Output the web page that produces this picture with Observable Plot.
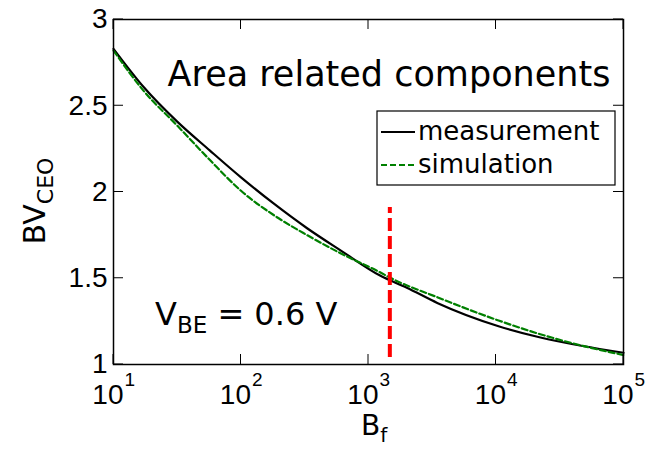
<!DOCTYPE html>
<html><head><meta charset="utf-8">
<script src="https://cdn.jsdelivr.net/npm/d3@7"></script>
<script src="https://cdn.jsdelivr.net/npm/@observablehq/plot@0.6"></script>
<style>body{margin:0;background:#fff} svg{font-family:"Liberation Sans"}</style>
</head><body><div id="chart"></div>
<script>
// Data
const bfMeas = [10, 17.3, 31.6, 57.1, 100, 179, 330, 603, 1242, 2000, 3460, 10470, 21900, 47900, 100000];
const measurement = [2.83, 2.607, 2.408, 2.24, 2.085, 1.935, 1.79, 1.662, 1.514, 1.445, 1.357, 1.222, 1.158, 1.107, 1.068];
const bfSim = [10, 17.3, 31.6, 57.1, 100, 179, 330, 603, 1242, 1479, 3460, 10470, 21900, 47900, 100000];
const simulation = [2.82, 2.585, 2.385, 2.185, 2.007, 1.868, 1.75, 1.645, 1.533, 1.503, 1.39, 1.255, 1.177, 1.108, 1.055];
const xTicks = [10, 100, 1000, 10000, 100000];
const xExp = ["1", "2", "3", "4", "5"];
const yTicks = [1, 1.5, 2, 2.5, 3];
const markerBf = [1470];
const markerY = [1.04, 1.91];
const seriesNames = ["measurement", "simulation"];

const measData = bfMeas.map((x, i) => ({x, y: measurement[i]}));
const simData = bfSim.map((x, i) => ({x, y: simulation[i]}));
const xLab = xTicks.map((x, i) => ({x, e: xExp[i]}));

const W = 648, H = 450, ML = 113, MR = 25, MT = 19, MB = 86;
const SANS = "Liberation Sans", WIDE = "DejaVu Sans";

const plot = Plot.plot({
  width: W, height: H,
  marginLeft: ML, marginRight: MR, marginTop: MT, marginBottom: MB,
  style: {fontFamily: SANS, fontSize: "28px", background: "#fff", color: "#000", overflow: "visible"},
  x: {type: "log", domain: [10, 1e5], axis: null},
  y: {domain: [1, 3], axis: null},
  marks: [
    Plot.line(measData, {x: "x", y: "y", stroke: "#000", strokeWidth: 2.2, curve: "monotone-x"}),
    Plot.line(simData, {x: "x", y: "y", stroke: "#008000", strokeWidth: 2.2, strokeDasharray: "6,3", curve: "monotone-x"}),
    Plot.ruleX(markerBf, {x: d => d, y1: markerY[0], y2: markerY[1], stroke: "#ff0000", strokeWidth: 4, strokeDasharray: "13,5"}),
    Plot.frame({stroke: "#000", strokeWidth: 1.5}),
    // y tick labels
    Plot.text(yTicks, {x: 10, y: d => d, text: d => String(d), textAnchor: "end", dx: -6, fontSize: 28}),
    // x tick labels: 10 with superscript exponent
    Plot.text(xLab, {x: "x", y: 1, text: () => "10", textAnchor: "end", lineAnchor: "bottom", dx: 10, dy: 39, fontSize: 28}),
    Plot.text(xLab, {x: "x", y: 1, text: "e", textAnchor: "start", lineAnchor: "bottom", dx: 11, dy: 21, fontSize: 19})
  ]
});
document.getElementById("chart").appendChild(plot);

const svg = d3.select(plot);
const sx = plot.scale("x"), sy = plot.scale("y");
const [x0, x1] = [sx.apply(10), sx.apply(1e5)];
const [yb, yt] = [sy.apply(1), sy.apply(3)];
const TL = 10;

// inward ticks, MATLAB style, on all four sides
const tg = svg.append("g").attr("stroke", "#000").attr("stroke-width", 1);
yTicks.forEach(v => {
  const y = sy.apply(v);
  tg.append("line").attr("x1", x0).attr("x2", x0 + TL).attr("y1", y).attr("y2", y);
  tg.append("line").attr("x1", x1).attr("x2", x1 - TL).attr("y1", y).attr("y2", y);
});
xTicks.forEach(v => {
  const x = sx.apply(v);
  tg.append("line").attr("x1", x).attr("x2", x).attr("y1", yb).attr("y2", yb - TL);
  tg.append("line").attr("x1", x).attr("x2", x).attr("y1", yt).attr("y2", yt + TL);
});

function richText(opts, parts) {
  const t = svg.append("text")
    .attr("font-family", opts.family).attr("font-size", opts.size).attr("fill", "#000")
    .attr("text-anchor", opts.anchor || "start");
  if (opts.rotate) t.attr("transform", `translate(${opts.x},${opts.y}) rotate(-90)`);
  else t.attr("x", opts.x).attr("y", opts.y);
  let shift = 0;
  parts.forEach(p => {
    const ts = t.append("tspan").text(p.text);
    if (p.size) ts.attr("font-size", p.size);
    const want = p.dy || 0;
    if (want !== shift) { ts.attr("dy", want - shift); shift = want; }
  });
  return t;
}

// axis labels
richText({x: 361, y: 435, family: WIDE, size: 28}, [{text: "B"}, {text: "f", size: 20, dy: 7}]);
richText({x: 45, y: 201, family: WIDE, size: 30, anchor: "middle", rotate: true},
  [{text: "BV"}, {text: "CEO", size: 22, dy: 8}]);

// annotations
svg.append("text").attr("x", 389).attr("y", 86).attr("text-anchor", "middle")
  .attr("font-family", WIDE).attr("font-size", 35).attr("fill", "#000").text("Area related components");
richText({x: 155, y: 325, family: WIDE, size: 32},
  [{text: "V"}, {text: "BE", size: 23, dy: 8}, {text: " = 0.6 V", dy: 0}]);

// legend
const lg = svg.append("g");
lg.append("rect").attr("x", 377).attr("y", 111).attr("width", 238).attr("height", 74)
  .attr("fill", "#fff").attr("stroke", "#000").attr("stroke-width", 1.2);
const legendStyles = [{stroke: "#000", dash: null}, {stroke: "#008000", dash: "6,3"}];
seriesNames.forEach((name, i) => {
  const yy = 132 + i * 33;
  const l = lg.append("line").attr("x1", 381).attr("x2", 415).attr("y1", yy).attr("y2", yy)
    .attr("stroke", legendStyles[i].stroke).attr("stroke-width", 2.2);
  if (legendStyles[i].dash) l.attr("stroke-dasharray", legendStyles[i].dash);
  lg.append("text").attr("x", 418).attr("y", yy + 8).attr("text-anchor", "start")
    .attr("font-family", WIDE).attr("font-size", 26).attr("fill", "#000").text(name);
});
</script>
</body></html>
